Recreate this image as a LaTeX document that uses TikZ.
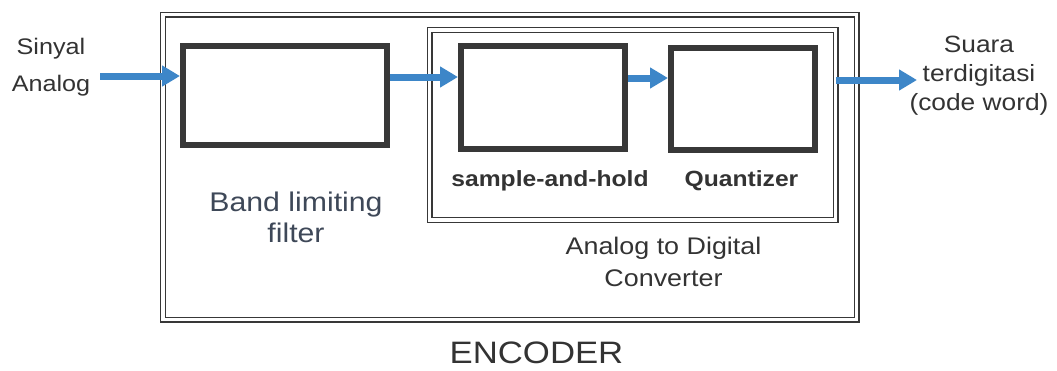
\documentclass[tikz,border=0pt]{standalone}
\usepackage{fontspec}
\setmainfont[FakeStretch=1.12]{Liberation Sans}
\usetikzlibrary{arrows.meta}
\definecolor{ink}{HTML}{333333}
\definecolor{frame}{HTML}{383838}
\definecolor{flowc}{HTML}{3D86C8}
\definecolor{bandtext}{HTML}{3E4858}

\begin{document}
\begin{tikzpicture}[x=1pt,y=-1pt,
  block/.style={draw=frame, line width=6pt, inner sep=0pt},
  dbl/.style={draw=frame, double=white, double distance=3.4pt, line width=1.3pt, inner sep=0pt},
  flow/.style={draw=flowc, line width=7pt, -{Triangle[length=18pt,width=20pt]}},
  lbl/.style={inner sep=0pt, text=ink, align=center}]
  \useasboundingbox (0,0) rectangle (1057,370);

  % outer encoder frame and the converter frame inside it
  \node[dbl, minimum width=693.5pt, minimum height=305pt] (enc) at (509.75,167) {};
  \node[dbl, minimum width=406pt, minimum height=190pt] (adc) at (632.5,125) {};

  % processing blocks
  \node[block, minimum width=204pt, minimum height=99pt] (filter) at (285,95.5) {};
  \node[block, minimum width=164pt, minimum height=103pt] (sh) at (543,97.5) {};
  \node[block, minimum width=144pt, minimum height=102pt] (q) at (743,99) {};

  % labels
  \node[lbl, font=\fontsize{22.5}{37}\selectfont] (in) at (51,66.7) {Sinyal\\Analog};
  \node[lbl, font=\fontsize{23.5}{29}\selectfont] (out) at (979,76) {Suara\\terdigitasi\\(code word)};
  \node[lbl, text=bandtext, font=\fontsize{27}{31}\selectfont] (bandlbl) at (296,217.5) {Band limiting\\filter};
  \node[lbl, font=\fontsize{22}{26}\selectfont\bfseries, anchor=base] (shlbl) at (550,186) {sample-and-hold};
  \node[lbl, font=\fontsize{22}{26}\selectfont\bfseries, anchor=base] (qlbl) at (741.5,186) {Quantizer};
  \node[lbl, font=\fontsize{24}{32}\selectfont] (adclbl) at (663.5,262) {Analog to Digital\\Converter};
  \node[lbl, font=\fontsize{31}{36}\selectfont, anchor=base] (enclbl) at (536.5,363) {ENCODER};

  % signal flow
  \coordinate (src) at (100,76);
  \coordinate (dst) at (917,80);
  \draw[flow] (src) -- (src -| filter.west);
  \draw[flow] (filter.east |- 0,77) -- (sh.west |- 0,77);
  \draw[flow] (sh.east |- 0,78) -- (q.west |- 0,78);
  \draw[flow] (adc.east |- dst) -- (dst);
\end{tikzpicture}
\end{document}
